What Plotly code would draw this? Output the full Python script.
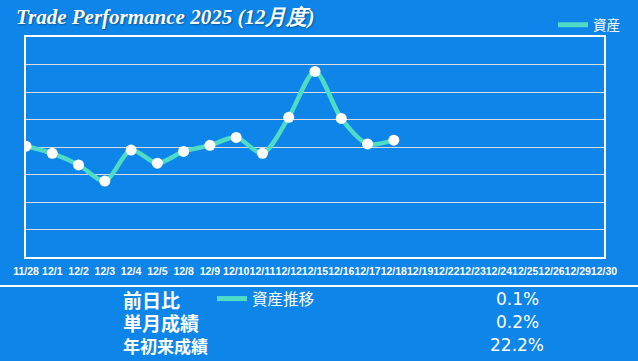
import plotly.graph_objects as go

# ---- data ----
dates = ["11/28", "12/1", "12/2", "12/3", "12/4", "12/5", "12/8", "12/9", "12/10",
         "12/11", "12/12", "12/15", "12/16", "12/17", "12/18", "12/19", "12/22",
         "12/23", "12/24", "12/25", "12/26", "12/29", "12/30"]
assets = [4.03, 3.77, 3.35, 2.76, 3.89, 3.41, 3.84, 4.06, 4.35, 3.77, 5.08, 6.75,
          5.04, 4.11, 4.25]
series_name = "資産"
summary_legend = "資産推移"
summary_labels = ["前日比", "単月成績", "年初来成績"]
summary_values = ["0.1%", "0.2%", "22.2%"]
title_text = "Trade Performance 2025 (12月度)"

BG = "#0d85e9"
LINE = "#4edcc6"
W, H = 638, 361
ML, MR, MT, MB = 26, 34, 37, 104
PW, PH = W - ML - MR, H - MT - MB

def px_x(x):
    return (x - ML) / PW

def px_y(y):
    return (H - MB - y) / PH

fig = go.Figure()
fig.add_trace(go.Scatter(
    x=dates[:len(assets)], y=assets, name=series_name, mode="lines+markers",
    line=dict(color=LINE, width=4.5, shape="spline", smoothing=0.8),
    marker=dict(color="white", size=11, line=dict(width=0)),
    showlegend=False,
))
# legend entries (line swatches only)
fig.add_trace(go.Scatter(
    x=[None], y=[None], name=series_name, mode="lines",
    line=dict(color=LINE, width=5), legend="legend", showlegend=True,
))
fig.add_trace(go.Scatter(
    x=[None], y=[None], name=summary_legend, mode="lines",
    line=dict(color=LINE, width=5), legend="legend2", showlegend=True,
))

annotations = []
row_y = [299, 322, 345]
label_sizes = [19, 19, 17]
for lab, val, py, fs in zip(summary_labels, summary_values, row_y, label_sizes):
    annotations.append(dict(
        text=lab, xref="paper", yref="paper", x=px_x(121), y=px_y(py),
        xanchor="left", yanchor="middle", showarrow=False,
        font=dict(family="Noto Sans CJK JP", size=fs, color="white", weight="bold"),
    ))
    annotations.append(dict(
        text=val, xref="paper", yref="paper", x=px_x(517), y=px_y(py),
        xanchor="center", yanchor="middle", showarrow=False,
        font=dict(family="DejaVu Sans", size=17, color="white"),
    ))

fig.update_layout(
    width=W, height=H,
    paper_bgcolor=BG, plot_bgcolor=BG,
    margin=dict(l=ML, r=MR, t=MT, b=MB, autoexpand=False),
    title=dict(
        text=title_text, xref="container", yref="container",
        x=16 / W, y=1 - 17 / H, xanchor="left", yanchor="middle",
        font=dict(family="Liberation Serif", size=21, color="white",
                  weight="bold", style="italic",
                  shadow="1px 1px 2px rgba(0,0,0,0.35)"),
    ),
    xaxis=dict(
        type="category", categoryorder="array", categoryarray=dates,
        range=[0, len(dates) - 1], tickmode="linear", tick0=0, dtick=1,
        tickangle=0, showgrid=False, showline=True, linecolor="white",
        linewidth=1.5, mirror=True, ticks="",
        tickfont=dict(family="Liberation Sans", size=10.5, color="white", weight="bold"),
        zeroline=False, ticklabelstandoff=4,
    ),
    yaxis=dict(
        range=[0, 8], dtick=1, showticklabels=False, showgrid=True,
        gridcolor="#dcdcdc", gridwidth=1, showline=True, linecolor="white",
        linewidth=1.5, mirror=True, ticks="", zeroline=False,
    ),
    showlegend=True,
    legend=dict(
        x=px_x(553), y=px_y(25), xanchor="left", yanchor="middle",
        bgcolor="rgba(0,0,0,0)", font=dict(family="Noto Sans CJK JP", size=13.5, color="white"),
        itemwidth=30,
    ),
    legend2=dict(
        x=px_x(212), y=px_y(299), xanchor="left", yanchor="middle",
        bgcolor="rgba(0,0,0,0)", font=dict(family="Noto Sans CJK JP", size=15.5, color="white"),
        itemwidth=30,
    ),
    shapes=[dict(
        type="line", xref="paper", yref="paper",
        x0=px_x(0), x1=px_x(W), y0=px_y(286), y1=px_y(286),
        line=dict(color="white", width=2),
    )],
    annotations=annotations,
)

fig.write_html(
    "out.html",
    config={"displayModeBar": False},
    post_script="document.body.style.margin='0';document.body.style.overflow='hidden';"
                "document.body.style.background='" + BG + "';",
)
